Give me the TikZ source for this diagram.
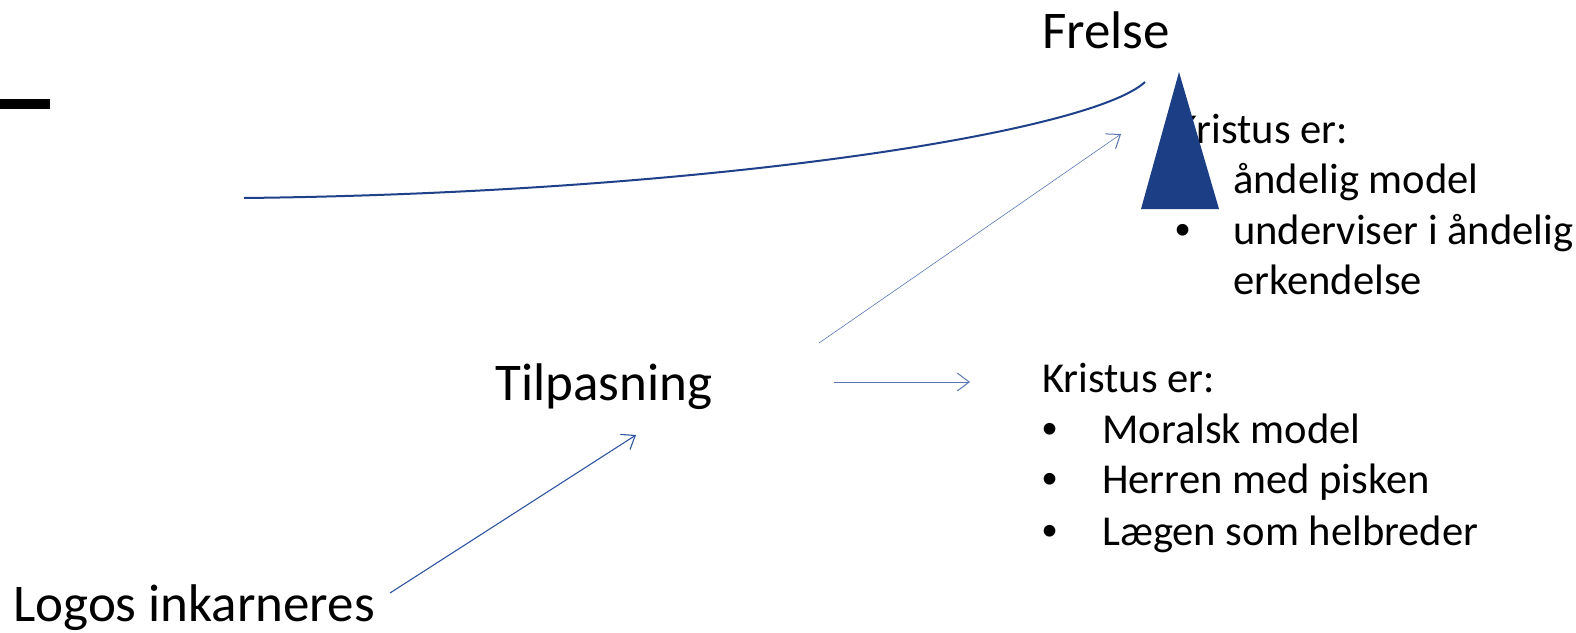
\documentclass[tikz,border=0pt]{standalone}
\usepackage{fontspec}
\setmainfont{Carlito}
\newfontfamily\bulfont{Liberation Sans}
\usetikzlibrary{arrows.meta}
\definecolor{dblue}{RGB}{31,65,137}
\definecolor{tblue}{RGB}{27,62,133}
\definecolor{ablue}{RGB}{47,84,160}
\begin{document}
\begin{tikzpicture}[x=1pt,y=-1pt,
  big/.style={font=\fontsize{53}{62}\selectfont, inner sep=0pt, anchor=base west},
  lst/.style={font=\fontsize{42.6}{50}\selectfont, inner sep=0pt, anchor=base west},
  bul/.style={font=\bulfont\fontsize{43}{50}\selectfont, inner sep=0pt, anchor=base},
  conn/.style={draw=ablue, line width=1.1pt, -{Straight Barb[length=12pt,width=18pt]}},
  thinconn/.style={draw=ablue!80, line width=0.6pt, -{Straight Barb[length=12pt,width=18pt,line width=1pt]}},
]
\useasboundingbox (0,0) rectangle (1576,632);
% black dash
\fill[black] (0,98.5) rectangle (50,108.5);
% headings
\node[big] (frelse) at (1042,48) {Frelse};
\node[big] (tilp) at (495,400) {Tilpasning};
\node[big] (logos) at (13,621) {Logos inkarneres};
% lower list
\node[lst] (k2) at (1042,392) {Kristus er:};
\node[bul] (b21) at (1050,443) {•};
\node[lst] (l21) at (1102,443) {Moralsk model};
\node[bul] (b22) at (1050,493.5) {•};
\node[lst] (l22) at (1102,493.5) {Herren med pisken};
\node[bul] (b23) at (1050,545) {•};
\node[lst] (l23) at (1102,545) {Lægen som helbreder};
% upper list
\node[lst] (k1) at (1175,143) {Kristus er:};
\node[bul] (b11) at (1183,193) {•};
\node[lst] (l11) at (1233,193) {åndelig model};
\node[bul] (b12) at (1183,244) {•};
\node[lst] (l12) at (1233,244) {underviser i åndelig};
\node[lst] (l13) at (1233,294.5) {erkendelse};
% triangle
\fill[tblue] (1179,72) -- (1219,209) -- (1141,209) -- cycle;
% curve
\coordinate (cs) at (244,198);
\coordinate (ce) at (1145,82);
\draw[dblue, line width=2pt] (cs) .. controls (703,193) and (1090,133) .. (ce);
% arrows
\coordinate (a1s) at (390,593);
\coordinate (a1e) at (636,435);
\draw[conn] (a1s) -- (a1e);
\coordinate (a2s) at (819,343);
\coordinate (a2e) at (1121,134);
\draw[thinconn] (a2s) -- (a2e);
\coordinate (a3s) at (834,382);
\coordinate (a3e) at (970,382);
\draw[thinconn] (a3s) -- (a3e);
\end{tikzpicture}
\end{document}
